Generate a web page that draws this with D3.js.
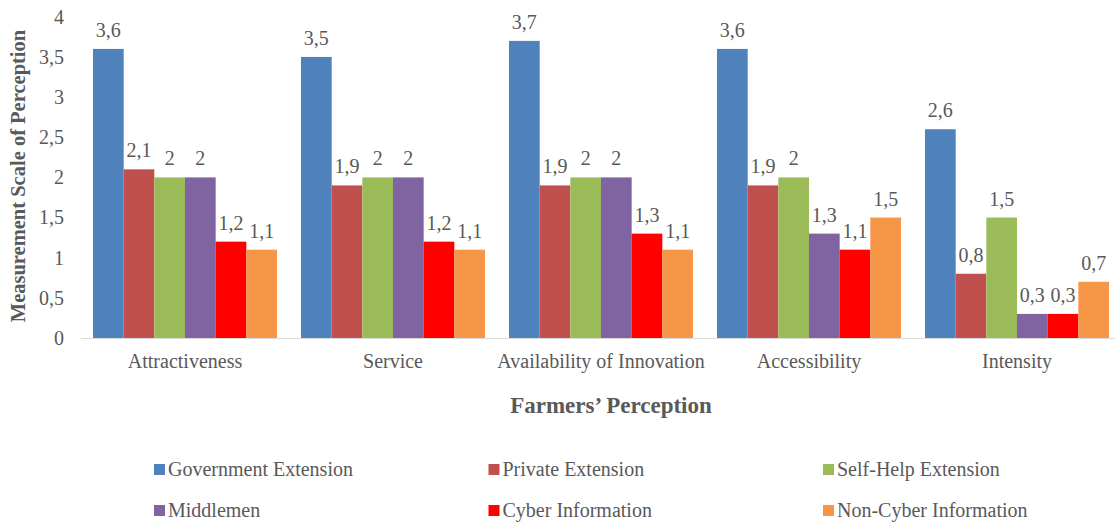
<!DOCTYPE html>
<html>
<head>
<meta charset="utf-8">
<script src="https://cdn.jsdelivr.net/npm/d3@7"></script>
<style>
  html, body { margin: 0; padding: 0; background: #ffffff; }
  svg { display: block; }
</style>
</head>
<body>
<svg id="chart" width="1115" height="522"></svg>
<script>
const categories = ["Attractiveness", "Service", "Availability of Innovation", "Accessibility", "Intensity"];
const seriesNames = ["Government Extension", "Private Extension", "Self-Help Extension", "Middlemen", "Cyber Information", "Non-Cyber Information"];
const governmentExtension = [3.6, 3.5, 3.7, 3.6, 2.6];
const privateExtension    = [2.1, 1.9, 1.9, 1.9, 0.8];
const selfHelpExtension   = [2.0, 2.0, 2.0, 2.0, 1.5];
const middlemen           = [2.0, 2.0, 2.0, 1.3, 0.3];
const cyberInformation    = [1.2, 1.2, 1.3, 1.1, 0.3];
const nonCyberInformation = [1.1, 1.1, 1.1, 1.5, 0.7];
const yTicks = [0, 0.5, 1, 1.5, 2, 2.5, 3, 3.5, 4];
const colors = ["#4f81bd", "#c0504d", "#9bbb59", "#8064a2", "#ff0000", "#f79646"];
const seriesValues = [governmentExtension, privateExtension, selfHelpExtension, middlemen, cyberInformation, nonCyberInformation];

const FONT = '"Liberation Serif"';
const TXT = "#595959";
const svg = d3.select("#chart");
const fmt = v => String(v).replace(".", ",");
const styleText = (sel, size, weight) => sel.style("font-family", FONT).style("font-size", size + "px")
  .style("font-weight", weight || "normal").attr("fill", TXT).style("fill", TXT);

const y = d3.scaleLinear().domain([0, 4]).range([338, 16.8]);
const x0 = d3.scaleBand().domain(categories).range([81, 1121]).paddingInner(24/208).paddingOuter(12/208);
const x1 = d3.scaleBand().domain(seriesNames).range([0, x0.bandwidth()]);
const color = d3.scaleOrdinal().domain(seriesNames).range(colors);

// Y axis labels (no line)
const yAxis = d3.axisLeft(y).tickValues(yTicks).tickFormat(fmt).tickSize(0).tickPadding(0);
const yg = svg.append("g").attr("transform", "translate(64,0)").call(yAxis);
yg.attr("font-family", null).attr("font-size", null);
yg.select(".domain").remove();
styleText(yg.selectAll("text"), 20);

// Bars
const groups = svg.append("g").selectAll("g").data(categories).join("g")
  .attr("transform", d => `translate(${x0(d)},0)`);
const rows = (c, ci) => seriesNames.map((s, si) => ({ s, v: seriesValues[si][ci] }));
groups.selectAll("rect").data(rows).join("rect")
  .attr("x", d => x1(d.s))
  .attr("width", x1.bandwidth())
  .attr("y", d => y(d.v))
  .attr("height", d => y(0) - y(d.v))
  .attr("fill", d => color(d.s));
styleText(groups.selectAll("text.lbl").data(rows).join("text")
  .attr("class", "lbl")
  .attr("x", d => x1(d.s) + x1.bandwidth() / 2)
  .attr("y", d => y(d.v) - 12)
  .attr("text-anchor", "middle")
  .text(d => fmt(d.v)), 20);

// X axis
const xAxis = d3.axisBottom(x0).tickSize(0).tickPadding(0);
const xg = svg.append("g").attr("transform", "translate(0,338)").call(xAxis);
xg.attr("font-family", null).attr("font-size", null);
xg.select(".domain").remove();
styleText(xg.selectAll("text").attr("dy", null).attr("y", 30), 20);
svg.append("line").attr("x1", 81).attr("x2", 1115).attr("y1", 338.5).attr("y2", 338.5)
  .attr("stroke", "#d9d9d9").attr("stroke-width", 1.2);

// Axis titles
styleText(svg.append("text")
  .attr("transform", "translate(25,176) rotate(-90)")
  .attr("text-anchor", "middle")
  .text("Measurement Scale of Perception"), 20.5, "bold");
styleText(svg.append("text")
  .attr("x", 611).attr("y", 413)
  .attr("text-anchor", "middle")
  .text("Farmers’ Perception"), 23, "bold");

// Legend
const legend = svg.append("g").selectAll("g").data(seriesNames).join("g")
  .attr("transform", (d, i) => `translate(${154 + (i % 3) * 334.5},${i < 3 ? 464 : 505})`);
legend.append("rect").attr("width", 11).attr("height", 11).attr("fill", d => color(d));
styleText(legend.append("text").attr("x", 14).attr("y", 12).text(d => d), 20);
</script>
</body>
</html>
